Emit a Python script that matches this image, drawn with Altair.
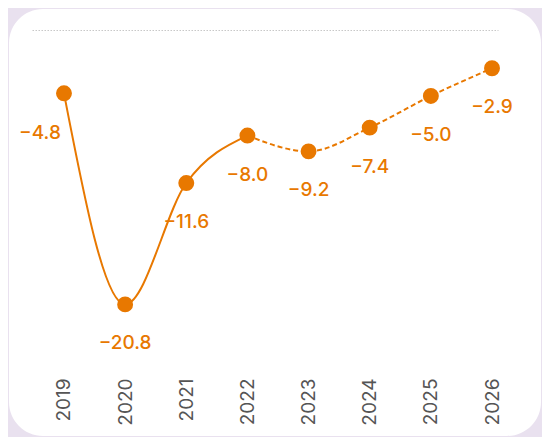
import altair as alt
import pandas as pd

years = [2019, 2020, 2021, 2022, 2023, 2024, 2025, 2026]
values = [-4.8, -20.8, -11.6, -8.0, -9.2, -7.4, -5.0, -2.9]
last_actual = 2022

ORANGE = "#E87800"
FONT = "Inter"

df = pd.DataFrame({"year": years, "value": values})
solid_df = df[df["year"] <= last_actual]
dashed_df = df[df["year"] >= last_actual]
first_df = df[df["year"] == years[0]]
rest_df = df[df["year"] != years[0]]

xscale = alt.Scale(domain=[2018.477, 2026.098], nice=False, zero=False)
yscale = alt.Scale(domain=[-26, 0], nice=False, zero=False)

X = alt.X("year:Q", scale=xscale, axis=alt.Axis(
    values=years, format="d", labelAngle=270, labelFontSize=19, labelColor="#555555",
    labelFont=FONT, labelPadding=5, domain=False, ticks=False, grid=False, title=None,
    zindex=1))
Y = alt.Y("value:Q", scale=yscale, axis=alt.Axis(
    values=[0], labels=False, domain=False, ticks=False, grid=True,
    gridColor="#c8c8c8", gridDash=[1.5, 1.5], gridWidth=1.2, title=None, zindex=1))

panel = alt.Chart(pd.DataFrame({"a": [0]})).mark_rect(
    color="white", cornerRadius=34
).encode(x=alt.value(-23), x2=alt.value(509), y=alt.value(-21), y2=alt.value(406))

base = alt.Chart(df)

solid = alt.Chart(solid_df).mark_line(
    color=ORANGE, strokeWidth=2, interpolate="monotone"
).encode(x=X, y=Y)

dashed = alt.Chart(dashed_df).mark_line(
    color=ORANGE, strokeWidth=2, strokeDash=[5, 3], interpolate="monotone"
).encode(x=X, y=Y)

points = base.mark_circle(color=ORANGE, size=254, opacity=1).encode(x=X, y=Y)

text_first = alt.Chart(first_df).mark_text(
    color=ORANGE, fontSize=19, font=FONT, fontWeight=500, dy=40, dx=-24, baseline="middle"
).encode(x=X, y=Y, text=alt.Text("value:Q", format=".1f"))

text_rest = alt.Chart(rest_df).mark_text(
    color=ORANGE, fontSize=19, font=FONT, fontWeight=500, dy=39, baseline="middle"
).encode(x=X, y=Y, text=alt.Text("value:Q", format=".1f"))

chart = alt.layer(panel, solid, dashed, points, text_first, text_rest).properties(
    width=466, height=343,
    autosize=alt.AutoSizeParams(type="none"),
    padding={"left": 24, "top": 22, "right": 44, "bottom": 64},
    background="#E9E1EF",
).configure_view(stroke=None)

chart.save("out.html", embed_options={"renderer": "svg", "actions": False})
